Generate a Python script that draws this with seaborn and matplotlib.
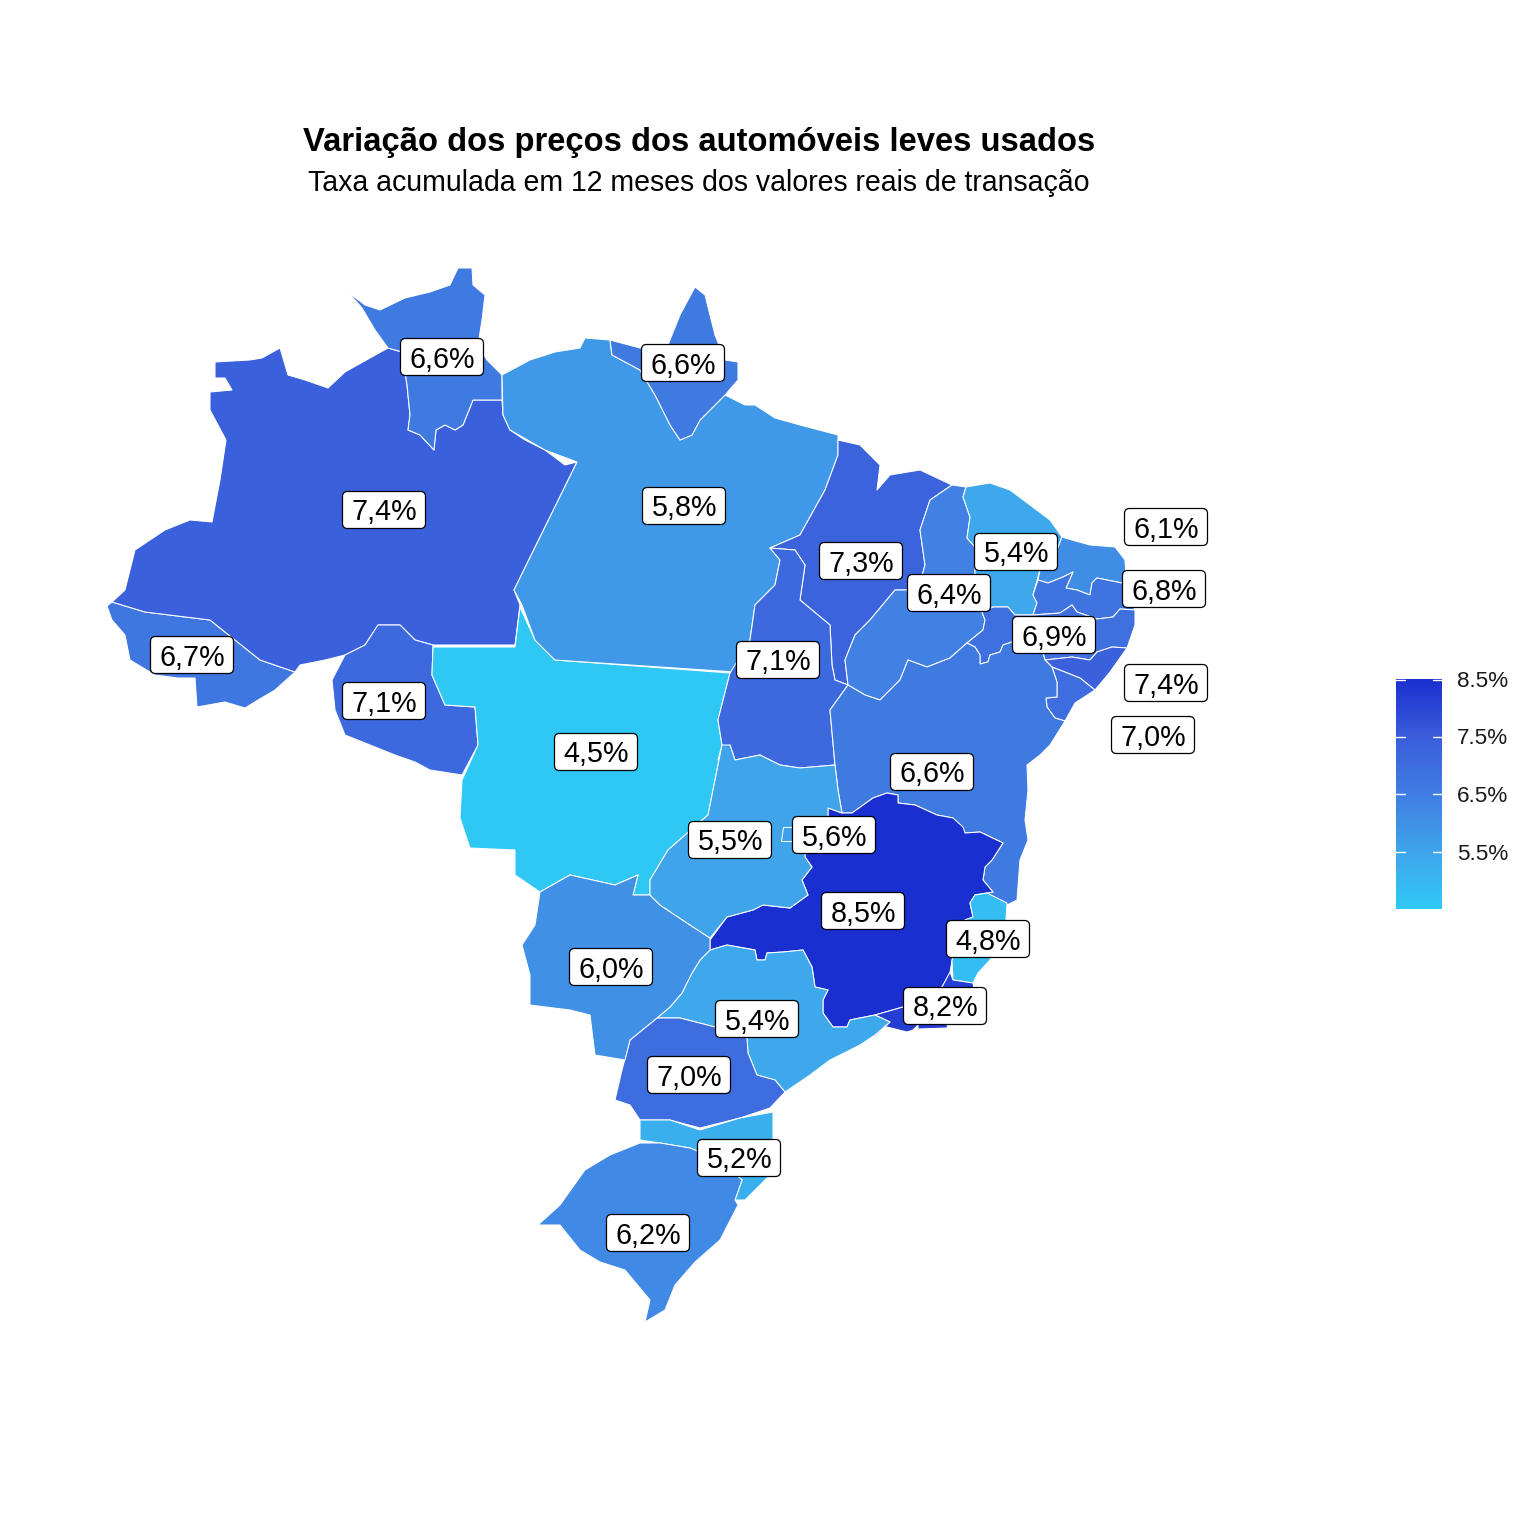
"""Choropleth of used light vehicle price changes by Brazilian state."""

import matplotlib.pyplot as plt
import numpy as np
import seaborn as sns
from matplotlib.cm import ScalarMappable
from matplotlib.colors import Normalize
from matplotlib.patches import FancyBboxPatch, Polygon

# state outlines (x, y in picture units)
AC = [(112,602),(145,612),(210,620),(235,640),(260,660),(295,672),(275,690),(258,700),(245,708),(225,702),(197,707),(195,678),(178,678),(155,675),(130,660),(125,635),(112,620),(107,606)]
AM = [(215,362),(250,360),(262,358),(280,348),(288,375),(305,380),(328,388),(345,372),(370,358),(388,348),(402,352),(407,385),(410,415),(408,430),(420,435),(434,450),(436,430),(445,425),(455,430),(463,425),(473,400),(502,400),(503,415),(510,430),(525,440),(545,450),(565,465),(577,462),(514,590),(520,605),(515,645),(433,645),(415,640),(400,625),(378,625),(365,645),(345,655),(325,660),(300,665),(295,672),(260,660),(235,640),(210,620),(145,612),(112,602),(125,590),(130,570),(135,550),(165,530),(190,520),(212,522),(220,480),(226,440),(210,410),(210,392),(232,390),(225,378),(215,378)]
RR = [(348,292),(365,305),(380,310),(405,298),(430,292),(450,285),(458,268),(472,268),(473,285),(485,295),(482,320),(478,345),(487,360),(502,375),(502,400),(473,400),(463,425),(455,430),(445,425),(436,430),(434,450),(420,435),(408,430),(410,415),(407,385),(402,352),(388,348),(375,330),(362,308)]
RO = [(378,625),(400,625),(415,640),(433,645),(432,675),(445,705),(475,707),(478,745),(462,775),(430,770),(415,762),(395,755),(370,745),(345,735),(335,710),(332,680),(345,655),(365,645)]
MT = [(433,647),(515,647),(520,607),(535,640),(555,660),(730,673),(718,720),(722,745),(708,815),(668,850),(650,880),(650,895),(633,895),(638,875),(615,885),(570,875),(540,892),(515,875),(515,850),(470,848),(460,818),(462,780),(478,745),(475,707),(445,705),(432,675)]
PA = [(502,375),(530,360),(555,352),(580,348),(585,338),(610,340),(612,355),(640,370),(655,395),(670,425),(680,440),(692,435),(700,420),(725,395),(745,405),(755,405),(775,418),(800,425),(838,435),(838,455),(825,490),(800,535),(770,548),(780,560),(775,585),(755,605),(750,640),(735,672),(555,660),(535,640),(522,605),(514,590),(577,462),(545,450),(510,430),(503,415)]
AP = [(610,340),(640,348),(668,345),(680,315),(695,287),(705,295),(715,335),(725,360),(738,362),(738,380),(725,395),(700,420),(692,435),(680,440),(670,425),(655,395),(640,370),(612,355)]
MA = [(838,440),(860,445),(880,465),(877,490),(890,475),(920,470),(952,485),(930,500),(920,530),(925,565),(918,590),(895,590),(870,620),(855,635),(845,660),(848,685),(835,680),(832,665),(830,625),(800,600),(805,565),(795,550),(770,548),(800,535),(825,490),(838,455)]
TO = [(770,548),(795,550),(805,565),(800,600),(830,625),(832,665),(835,680),(848,685),(830,710),(835,765),(800,768),(780,765),(760,755),(735,760),(730,745),(718,760),(722,745),(718,720),(730,673),(750,640),(755,605),(775,585),(780,560)]
PI = [(952,485),(966,487),(963,497),(970,517),(967,538),(975,547),(975,580),(982,612),(985,620),(983,630),(967,643),(950,658),(927,667),(908,660),(900,680),(880,700),(865,695),(848,685),(845,660),(855,635),(870,620),(895,590),(918,590),(925,565),(920,530),(930,500)]
CE = [(966,487),(990,483),(1010,490),(1030,505),(1050,520),(1062,537),(1060,542),(1057,550),(1040,570),(1038,577),(1033,595),(1037,603),(1033,615),(1015,615),(1008,607),(993,607),(982,612),(975,580),(975,547),(967,538),(970,517),(963,497)]
RN = [(1062,537),(1072,540),(1090,545),(1115,547),(1125,560),(1126,575),(1122,583),(1097,578),(1092,583),(1090,595),(1077,590),(1066,588),(1073,572),(1063,577),(1048,583),(1038,580),(1040,570),(1057,550),(1060,542)]
PB = [(1038,580),(1048,583),(1063,577),(1073,572),(1066,588),(1077,590),(1090,595),(1092,583),(1097,578),(1122,583),(1135,610),(1120,609),(1113,617),(1097,619),(1077,612),(1072,605),(1060,613),(1033,615),(1037,603),(1033,595)]
PE = [(967,643),(983,630),(985,620),(982,612),(993,607),(1008,607),(1015,615),(1033,615),(1060,613),(1072,605),(1077,612),(1097,619),(1113,617),(1120,609),(1135,610),(1135,625),(1127,648),(1112,647),(1097,652),(1090,660),(1072,657),(1045,660),(1043,653),(1012,642),(1003,645),(1000,652),(990,655),(988,662),(980,664),(980,655),(975,647)]
AL = [(1045,660),(1072,657),(1090,660),(1097,652),(1112,647),(1127,648),(1110,672),(1095,690),(1080,678),(1052,667)]
SE = [(1052,667),(1080,678),(1095,690),(1075,703),(1065,721),(1055,718),(1047,707),(1046,698),(1057,697),(1057,682)]
BA = [(848,685),(865,695),(880,700),(900,680),(908,660),(927,667),(950,658),(967,643),(975,647),(980,655),(980,664),(988,662),(990,655),(1000,652),(1003,645),(1012,642),(1043,653),(1045,660),(1052,667),(1057,682),(1057,697),(1046,698),(1047,707),(1055,718),(1065,721),(1050,745),(1040,755),(1027,765),(1028,790),(1025,820),(1028,840),(1020,860),(1017,900),(1007,905),(987,893),(975,895),(993,892),(983,880),(985,867),(992,860),(1003,843),(980,832),(965,833),(953,818),(937,815),(915,805),(898,803),(898,795),(887,793),(873,798),(852,813),(842,813),(838,790),(835,765),(830,710)]
MG = [(887,793),(898,795),(898,803),(915,805),(937,815),(953,818),(963,827),(965,833),(980,832),(1003,843),(992,860),(985,867),(983,880),(993,892),(975,895),(970,903),(973,917),(965,920),(960,940),(952,960),(950,973),(942,987),(903,1007),(875,1015),(850,1020),(847,1027),(833,1027),(823,1013),(823,1000),(828,990),(815,987),(812,967),(803,950),(783,952),(767,953),(765,960),(757,960),(755,950),(727,945),(710,950),(710,940),(727,917),(753,910),(763,905),(790,908),(808,895),(802,880),(812,867),(805,857),(805,830),(828,822),(828,808),(842,813),(852,813),(873,798)]
ES = [(975,895),(970,903),(973,917),(965,920),(960,940),(952,960),(953,980),(973,983),(978,973),(990,960),(1000,935),(1006,920),(1007,903),(987,893)]
RJ = [(942,987),(950,972),(953,980),(973,983),(975,995),(960,1015),(948,1023),(947,1028),(918,1029),(918,1025),(913,1030),(907,1032),(887,1027),(875,1033),(873,1038),(880,1032),(890,1022),(875,1015),(903,1007)]
SP = [(710,950),(727,945),(755,950),(757,960),(765,960),(767,953),(783,952),(803,950),(812,967),(815,987),(828,990),(823,1000),(823,1013),(833,1027),(847,1027),(850,1020),(875,1015),(890,1022),(875,1035),(860,1045),(830,1060),(810,1075),(785,1092),(775,1080),(757,1075),(748,1053),(747,1038),(715,1027),(680,1018),(657,1018),(670,1007),(682,993),(692,973),(700,960)]
PR = [(630,1040),(657,1018),(680,1018),(715,1027),(747,1038),(748,1053),(757,1075),(775,1080),(785,1092),(770,1108),(740,1118),(700,1128),(670,1120),(640,1120),(630,1105),(615,1100),(622,1070)]
SC = [(640,1120),(670,1120),(700,1130),(740,1118),(773,1112),(773,1140),(770,1175),(745,1200),(735,1200),(742,1180),(720,1160),(690,1148),(660,1143),(640,1140)]
RS = [(640,1143),(660,1143),(690,1148),(720,1160),(742,1180),(735,1200),(738,1205),(720,1240),(695,1262),(675,1285),(665,1310),(645,1322),(650,1300),(625,1270),(600,1262),(580,1250),(560,1225),(538,1225),(560,1205),(585,1170),(610,1155)]
MS = [(540,892),(570,875),(615,885),(638,875),(633,895),(650,895),(660,905),(690,925),(710,938),(710,950),(700,960),(692,973),(682,993),(670,1007),(657,1018),(630,1040),(625,1060),(595,1055),(590,1015),(570,1010),(530,1005),(530,975),(522,945),(535,925)]
GO = [(722,745),(730,745),(735,760),(760,755),(780,765),(800,768),(835,765),(838,790),(842,813),(828,808),(828,822),(805,830),(805,857),(812,867),(802,880),(808,895),(790,908),(763,905),(753,910),(727,917),(710,938),(690,925),(660,905),(650,895),(650,880),(668,850),(708,815)]
DF = [(783,827),(800,827),(800,841),(781,841)]

states = [AC, AM, RR, RO, MT, PA, AP, MA, TO, PI, CE, RN, PB, PE, AL, SE, BA, MG, ES, RJ, SP, PR, SC, RS, MS, GO, DF]
rates = [6.7, 7.4, 6.6, 7.1, 4.5, 5.8, 6.6, 7.3, 7.1, 6.4, 5.4, 6.1, 6.8, 6.9, 7.4, 7.0, 6.6, 8.5, 4.8, 8.2, 5.4, 7.0, 5.2, 6.2, 6.0, 5.5, 5.6]

# label text and where each box sits
label_text = ["6,7%", "7,4%", "6,6%", "7,1%", "4,5%", "5,8%", "6,6%", "7,3%", "7,1%", "6,4%", "5,4%", "6,1%", "6,8%", "6,9%", "7,4%", "7,0%", "6,6%", "8,5%", "4,8%", "8,2%", "5,4%", "7,0%", "5,2%", "6,2%", "6,0%", "5,5%", "5,6%"]
label_x = [192, 384, 442, 384, 596, 684, 683, 861, 778, 949, 1016, 1166, 1164, 1054, 1166, 1153, 932, 863, 988, 945, 757, 689, 739, 648, 611, 730, 834]
label_y = [655, 510, 357, 701, 752, 506, 363, 561, 660, 593, 552, 527, 589, 635, 683, 735, 772, 911, 939, 1006, 1019, 1075, 1158, 1233, 967, 840, 835]

legend_ticks = [5.5, 6.5, 7.5, 8.5]
legend_labels = ["5.5%", "6.5%", "7.5%", "8.5%"]

title = "Variação dos preços dos automóveis leves usados"
subtitle = "Taxa acumulada em 12 meses dos valores reais de transação"

sns.set_theme(style="white")
plt.rcParams["font.family"] = ["Liberation Sans", "DejaVu Sans"]

cmap = sns.blend_palette(["#2FC8F5", "#3FA4EA", "#407DE2", "#3A5DDB", "#1A2FCF"], as_cmap=True)
norm = Normalize(vmin=4.5, vmax=8.5)

fig = plt.figure(figsize=(15.36, 15.36), dpi=100)
ax = fig.add_axes([0, 0, 1, 1])
ax.set_xlim(0, 1536)
ax.set_ylim(1536, 0)
ax.axis("off")

for outline, rate in zip(states, rates):
    ax.add_patch(Polygon(outline, closed=True, facecolor=cmap(norm(rate)), edgecolor="white", linewidth=0.75, joinstyle="round"))

for text, x, y in zip(label_text, label_x, label_y):
    ax.add_patch(FancyBboxPatch((x - 41.5, y - 18.5), 83, 37, boxstyle="round,pad=0,rounding_size=5",
                                facecolor="white", edgecolor="black", linewidth=0.9, zorder=3))
    ax.text(x + 0.5, y + 10.5, text, ha="center", va="baseline", fontsize=20.7, color="black", zorder=4)

ax.text(699.5, 151, title, ha="center", va="baseline", fontsize=23.55, fontweight="bold", color="black")
ax.text(699, 191, subtitle, ha="center", va="baseline", fontsize=20.55, color="black")

# colour legend, white ticks cut in from both sides
cax = fig.add_axes([1396 / 1536, 1 - 909 / 1536, 46 / 1536, 230 / 1536])
bar = fig.colorbar(ScalarMappable(norm=norm, cmap=cmap), cax=cax)
bar.outline.set_visible(False)
bar.set_ticks(legend_ticks, labels=legend_labels)
cax.tick_params(axis="y", length=0, pad=10.5, labelsize=16.2, labelcolor="#1a1a1a")
for tick in legend_ticks:
    level = tick - 0.02 if tick == 8.5 else tick
    cax.plot([0, 0.2], [level, level], color="white", linewidth=1, transform=cax.get_yaxis_transform())
    cax.plot([0.8, 1], [level, level], color="white", linewidth=1, transform=cax.get_yaxis_transform())

fig.savefig("out.png", dpi=100, facecolor="white")
